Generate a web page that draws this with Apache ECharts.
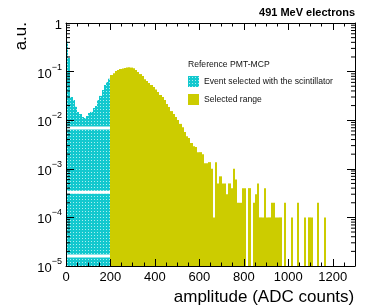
<!DOCTYPE html>
<html><head><meta charset="utf-8">
<script src="https://cdn.jsdelivr.net/npm/echarts@6/dist/echarts.min.js"></script>
<style>html,body{margin:0;padding:0;background:#fff}#c{width:374px;height:307px}</style>
</head><body><div id="c"></div>
<script>
// ---- data (bin lower edges in ADC counts, bin contents in a.u.) ----
const binWidth = 10;
const cyanBinStarts = [0,10,20,30,40,50,60,70,80,90,100,110,120,130,140,150,160,170,180,190];
const cyanValues = [0.41,0.19,0.030,0.026,0.019,0.0148,0.0134,0.0117,0.0111,0.0122,0.014,0.0148,0.0178,0.0196,0.026,0.0316,0.042,0.053,0.061,0.071];
const yellowBinStarts = [200,210,220,230,240,250,260,270,280,290,300,310,320,330,340,350,360,370,380,390,
  400,410,420,430,440,450,460,470,480,490,500,510,520,530,540,550,560,570,580,590,
  600,610,620,630,640,650,660,670,680,690,700,710,720,730,740,750,760,770,780,790,
  800,810,820,830,840,850,860,870,880,890,900,910,920,930,940,950,960,970,980,990,
  1000,1010,1020,1030,1040,1050,1060,1070,1080,1090,1100,1110,1120,1130,1140,1150,1160];
const yellowValues = [0.085,0.093,0.103,0.108,0.113,0.116,0.118,0.122,0.123,0.121,0.117,0.108,0.098,0.089,0.081,0.070,0.064,0.058,0.053,0.048,
  0.043,0.038,0.033,0.030,0.026,0.0215,0.0187,0.0154,0.0134,0.0116,0.0101,0.0084,0.0072,0.0057,0.0047,0.0043,0.0034,0.0029,0.0028,0.0022,
  0.0022,0.0020,0.0013,0.0013,0.00137,0.0010,0.0001,0.00137,0.0005,0.0007,0.0005,0.0005,0.0003,0.0005,0.0004,0.0010,0.0006,0.0002,0.0002,0.0004,
  0.0004,0,0.0004,0,0.0002,0.0003,0.0005,0.0001,0.0001,0.0004,0.0001,0.0001,0.0002,0.0002,0.0001,0.0001,0.0001,0,0.0002,0,
  0,0.0001,0,0,0.0002,0,0,0.0001,0,0.0001,0.0001,0,0,0.0002,0,0,0.0001];
const stripeLevels = [0.0069, 0.00033, 0.000016];
const logMinorMantissas = [2,3,4,5,6,7,8,9];
const logDecades = [1e-5,1e-4,1e-3,1e-2,1e-1];
const xMin = 0, xMax = 1300, yMin = 1e-5, yMax = 1;

// ---- styles ----
const FONT = 'Liberation Sans, Arial, Helvetica, sans-serif';
function makePattern(){
  const c = document.createElement('canvas'); c.width = 3; c.height = 3;
  const g = c.getContext('2d');
  g.fillStyle = '#12c8ce'; g.fillRect(0,0,3,3);
  g.fillStyle = '#a8eef0'; g.fillRect(1,1,1,1);
  return c;
}
const cyanFill = {image: makePattern(), repeat: 'repeat'};
const yellowFill = '#cccc00';

function histRenderer(fill){
  return function(params, api){
    const x0 = api.value(0), v = api.value(1);
    if (!(v > 0)) return null;
    const p0 = api.coord([x0, v]);
    const p1 = api.coord([x0 + binWidth, yMin]);
    const xa = Math.round(p0[0]), xb = Math.round(p1[0]);
    return {type:'rect', shape:{x:xa, y:p0[1], width:xb-xa, height:p1[1]-p0[1]}, style:{fill: fill}};
  };
}
function stripeRenderer(params, api){
  const v = api.value(1);
  const p0 = api.coord([0, v]); const p1 = api.coord([200, v]);
  return {type:'rect', shape:{x:Math.round(p0[0]), y:p0[1]-1.5, width:Math.round(p1[0])-Math.round(p0[0]), height:3}, style:{fill:'#ffffff'}};
}
function minorTickRenderer(params, api){
  const v = api.value(1);
  const pl = api.coord([xMin, v]); const pr = api.coord([xMax, v]);
  return {type:'group', children:[
    {type:'line', shape:{x1:pl[0], y1:pl[1], x2:pl[0]+4, y2:pl[1]}, style:{stroke:'#000', lineWidth:1}},
    {type:'line', shape:{x1:pr[0], y1:pr[1], x2:pr[0]-4, y2:pr[1]}, style:{stroke:'#000', lineWidth:1}}
  ]};
}

const cyanData = cyanBinStarts.map((x,i)=>[x, cyanValues[i]]);
const yellowData = yellowBinStarts.map((x,i)=>[x, yellowValues[i]]);
const stripeData = stripeLevels.map(v=>[0, v]);
const minorTickData = [];
logDecades.forEach(d=>logMinorMantissas.forEach(m=>minorTickData.push([0, m*d])));

const axisLineStyle = {show:true, onZero:false, lineStyle:{color:'#000', width:1}};
const chart = echarts.init(document.getElementById('c'), null, {renderer:'canvas'});
chart.setOption({
  animation: false,
  backgroundColor: '#fff',
  title: [
    {text:'491 MeV electrons', right:19, top:7, padding:0, textStyle:{fontSize:11, fontWeight:'bold', color:'#000', fontFamily:FONT}},
    {text:'Reference PMT-MCP', left:188, top:60, padding:0, textStyle:{fontSize:8.6, fontWeight:'normal', color:'#111', fontFamily:FONT}}
  ],
  legend: {
    left:188, top:76, orient:'vertical', padding:0, itemWidth:11, itemHeight:11, itemGap:7,
    icon:'rect', selectedMode:false,
    textStyle:{fontSize:8.6, color:'#111', fontFamily:FONT},
    data:['Event selected with the scintillator', 'Selected range']
  },
  grid: {left:66, right:19, top:23, bottom:41, containLabel:false, outerBoundsMode:'none'},
  xAxis: [
    {type:'value', min:xMin, max:xMax, interval:200, position:'bottom', z:10,
     axisLine:axisLineStyle,
     axisTick:{show:true, inside:true, length:7, lineStyle:{color:'#000'}},
     minorTick:{show:true, splitNumber:4, length:3.5, lineStyle:{color:'#000'}},
     axisLabel:{color:'#000', fontSize:13, margin:5, showMaxLabel:false, fontFamily:FONT, formatter:function(v){return String(v);}},
     splitLine:{show:false}, minorSplitLine:{show:false},
     name:'amplitude (ADC counts)', nameLocation:'middle', nameGap:15,
     nameTextStyle:{fontSize:17, color:'#000', verticalAlign:'top', padding:[0,0,0,107], fontFamily:FONT}},
    {type:'value', min:xMin, max:xMax, interval:200, position:'top', z:10,
     axisLine:axisLineStyle,
     axisTick:{show:true, inside:true, length:7, lineStyle:{color:'#000'}},
     minorTick:{show:true, splitNumber:4, length:3.5, lineStyle:{color:'#000'}},
     axisLabel:{show:false}, splitLine:{show:false}}
  ],
  yAxis: [
    {type:'log', logBase:10, min:yMin, max:yMax, position:'left', z:10,
     axisLine:axisLineStyle,
     axisTick:{show:true, inside:true, length:8, lineStyle:{color:'#000'}},
     axisLabel:{margin:4, fontFamily:FONT,
       formatter:function(v){ const e = Math.round(Math.log10(v)); return e===0 ? '{b|1}' : '{b|10}{s|\u2212'+(-e)+'}'; },
       rich:{b:{fontSize:13, color:'#000', fontFamily:FONT, lineHeight:18, verticalAlign:'bottom'},
             s:{fontSize:9, color:'#000', fontFamily:FONT, lineHeight:12, verticalAlign:'top'}}},
     splitLine:{show:false},
     name:'a.u.', nameLocation:'end', nameRotate:90, nameGap:1,
     nameTextStyle:{fontSize:17, color:'#000', align:'right', verticalAlign:'bottom', padding:[0,0,36,0], fontFamily:FONT}},
    {type:'log', logBase:10, min:yMin, max:yMax, position:'right', z:10,
     axisLine:axisLineStyle,
     axisTick:{show:true, inside:true, length:8, lineStyle:{color:'#000'}},
     axisLabel:{show:false}, splitLine:{show:false}}
  ],
  series: [
    {name:'Event selected with the scintillator', type:'custom', xAxisIndex:0, yAxisIndex:0, clip:true,
     itemStyle:{color:cyanFill}, renderItem:histRenderer(cyanFill), data:cyanData, z:2, silent:true},
    {name:'Selected range', type:'custom', xAxisIndex:0, yAxisIndex:0, clip:true,
     itemStyle:{color:yellowFill}, renderItem:histRenderer(yellowFill), data:yellowData, z:2, silent:true},
    {name:'stripes', type:'custom', xAxisIndex:0, yAxisIndex:0, clip:true,
     renderItem:stripeRenderer, data:stripeData, z:3, silent:true},
    {name:'logMinorTicks', type:'custom', xAxisIndex:0, yAxisIndex:0, clip:false,
     renderItem:minorTickRenderer, data:minorTickData, z:20, silent:true}
  ]
});
</script></body></html>
